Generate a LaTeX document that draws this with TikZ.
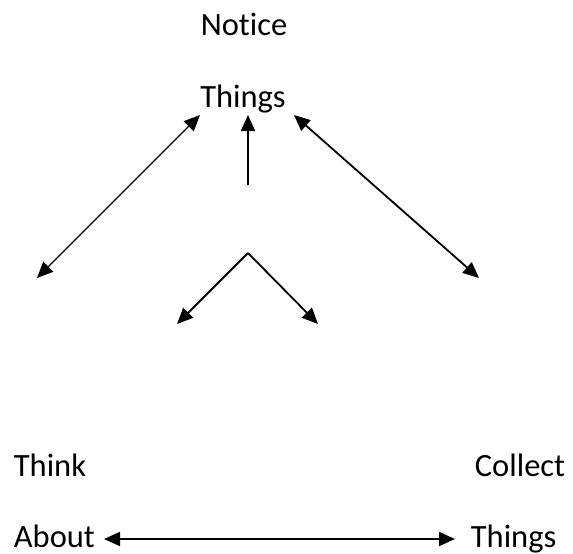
\documentclass[tikz,border=0pt]{standalone}
\usepackage{fontspec}
\setmainfont{Carlito}[Ligatures=NoCommon]
\usetikzlibrary{arrows.meta}
\newcommand{\drawword}{\node[inner sep=0,anchor=base,font=\fontsize{32.5}{38}\selectfont]}
\newcommand{\drawdummy}{\coordinate}

\begin{document}
\begin{tikzpicture}[x=1pt, y=-1pt, line width=1.8pt, >={Triangle[length=16pt,width=14pt]}]
\useasboundingbox (0,0) rectangle (573,554);
%words
\drawword (notice) at (244,35) {Notice};
\drawword (things) at (243,107) {Things};
\drawword[anchor=base west] (think) at (13,476) {Think};
\drawword[anchor=base west] (about) at (13,547) {About};
\drawword[anchor=base east] (collect) at (566,476) {Collect};
\drawword[anchor=base west] (things2) at (470,547) {Things};
%free ends
\drawdummy (tl) at (200,115);
\drawdummy (bl) at (37,278);
\drawdummy (tr) at (294,115);
\drawdummy (br) at (479,278);
\drawdummy (vtop) at (248,115);
\drawdummy (vbot) at (248,185);
\drawdummy (apex) at (248,253);
\drawdummy (cl) at (177,324);
\drawdummy (cr) at (318,324);
\drawdummy (al) at (104,539);
\drawdummy (ar) at (455,539);

\draw[<->, line width=1.4pt] (tl) to (bl);
\draw[<->] (tr) to (br);
\draw[->] (vbot) to (vtop);
\draw[->] (apex) to (cl);
\draw[->] (apex) to (cr);
\draw[<->] (al) to (ar);
\end{tikzpicture}
\end{document}
